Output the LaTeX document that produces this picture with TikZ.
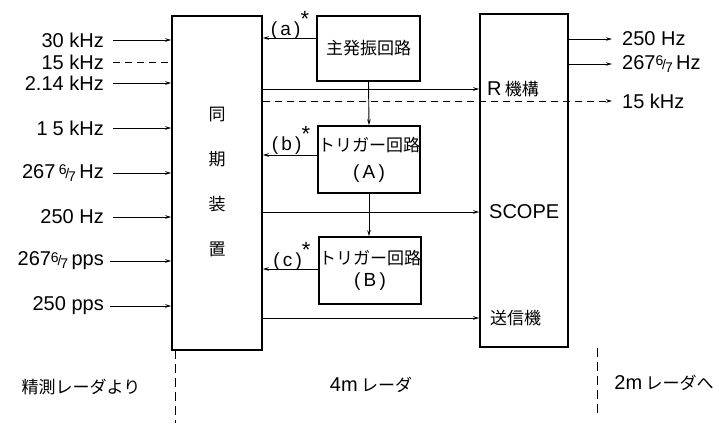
\documentclass[tikz,border=0pt]{standalone}
\usepackage{fontspec}
\setmainfont{Liberation Sans}
\newfontfamily\jp{Noto Sans CJK JP}
\usetikzlibrary{arrows.meta}
\newcommand{\sixsev}{{\fontsize{14}{14}\selectfont\raisebox{0.5ex}{6}\kern-0.08em/\kern-0.08em\raisebox{-0.35ex}{7}}}
\newcommand{\mystar}{\raisebox{0.9ex}{\fontsize{22}{22}\selectfont *}}
\begin{document}
\begin{tikzpicture}[x=1pt,y=-1pt,
  box/.style={draw, line width=1.6pt, inner sep=0pt},
  lab/.style={font=\fontsize{20}{20}\selectfont, inner sep=0pt},
  jlab/.style={font=\jp\fontsize{17}{17}\selectfont, inner sep=0pt},
  ln/.style={line width=0.9pt},
  arr/.style={line width=0.9pt, -{Stealth[length=6pt,width=3.5pt]}},
  dsh/.style={line width=0.9pt, dash pattern=on 7pt off 5pt},
  vdsh/.style={line width=0.9pt, dash pattern=on 9pt off 5pt}]
\useasboundingbox (0,0) rectangle (719,423);

% boxes
\node[box, minimum width=90pt, minimum height=334pt] (sync) at (217,183) {};
\node[jlab, align=center, font=\jp\fontsize{17}{45}\selectfont] (synct) at (217,182) {同\\期\\装\\置};
\node[box, minimum width=88pt, minimum height=333pt] (scope) at (524,180.5) {};
\node[box, jlab, minimum width=103pt, minimum height=65pt] (osc) at (368.5,48.5) {主発振回路};
\node[box, jlab, align=center, font=\jp\fontsize{17}{27}\selectfont, minimum width=102pt, minimum height=67pt] (trigA) at (369,159.5) {トリガー回路\\{\fontsize{19}{19}\selectfont\rmfamily(\,A\,)}};
\node[box, jlab, align=center, font=\jp\fontsize{17}{22}\selectfont, minimum width=102pt, minimum height=67pt] (trigB) at (370,270.5) {トリガー回路\\{\fontsize{19}{19}\selectfont\rmfamily(\,B\,)}};

% labels inside scope box
\node[lab, anchor=west] (rk) at (487,89) {R\,{\jp\fontsize{17}{17}\selectfont 機構}};
\node[lab, anchor=west] (sc) at (489,212) {SCOPE};
\node[jlab, anchor=west] (tx) at (490,318) {送信機};

% input labels
\node[lab, anchor=east] (i1) at (104,40) {30 kHz};
\node[lab, anchor=east] (i2) at (104,62) {15 kHz};
\node[lab, anchor=east] (i3) at (104,83) {2.14 kHz};
\node[lab, anchor=east] (i4) at (104,128) {1\hspace{0.25em}5 kHz};
\node[lab, anchor=east] (i5) at (104,173) {267\,\sixsev\,Hz};
\node[lab, anchor=east] (i6) at (104,217) {250 Hz};
\node[lab, anchor=east] (i7) at (104,261) {267\sixsev\,pps};
\node[lab, anchor=east] (i8) at (104,306) {250 pps};

\draw[arr] ([xshift=9pt]i1.east) -- (i1.east -| sync.west);
\draw[dsh] ([xshift=9pt]i2.east) -- (i2.east -| sync.west);
\draw[arr] ([xshift=9pt]i3.east) -- (i3.east -| sync.west);
\draw[arr] ([xshift=9pt]i4.east) -- (i4.east -| sync.west);
\draw[arr] ([xshift=9pt]i5.east) -- (i5.east -| sync.west);
\draw[arr] ([xshift=9pt]i6.east) -- (i6.east -| sync.west);
\draw[arr] ([xshift=6pt]i7.east) -- (i7.east -| sync.west);
\draw[arr] ([xshift=6pt]i8.east) -- (i8.east -| sync.west);

% output labels
\node[lab, anchor=west] (o1) at (622,39) {250 Hz};
\node[lab, anchor=west] (o2) at (622,64) {267\sixsev\,Hz};
\node[lab, anchor=west] (o3) at (622,101) {15 kHz};

\draw[arr] (o1.west -| scope.east) -- ([xshift=-10pt]o1.west);
\draw[arr] (o2.west -| scope.east) -- ([xshift=-10pt]o2.west);
\draw[dsh, -{Stealth[length=6pt,width=3.5pt]}] (o3.west -| sync.east) -- ([xshift=-10pt]o3.west);

% sync -> scope
\draw[arr] (rk.west -| sync.east) -- (rk.west -| scope.west);
\draw[arr] (sc.west -| sync.east) -- (sc.west -| scope.west);
\draw[arr] (tx.west -| sync.east) -- (tx.west -| scope.west);

% chain
\draw[arr] (osc.south) -- (trigA.north);
\draw[arr] (trigA.south) -- (trigA.south |- trigB.north);

% feedback to sync
\draw[arr] ([yshift=10.5pt]osc.west) -- ([yshift=10.5pt]osc.west -| sync.east);
\draw[arr] ([yshift=4.5pt]trigA.west) -- ([yshift=4.5pt]trigA.west -| sync.east);
\draw[arr] ([yshift=1.5pt]trigB.west) -- ([yshift=1.5pt]trigB.west -| sync.east);

\node[lab, font=\fontsize{19}{19}\selectfont] (la) at (290,25) {(\,a\,)\mystar};
\node[lab, font=\fontsize{19}{19}\selectfont] (lb) at (291,140) {(\,b\,)\mystar};
\node[lab, font=\fontsize{19}{19}\selectfont] (lc) at (292,256) {(\,c\,)\mystar};

% bottom
\coordinate (d1a) at (175,350);
\coordinate (d1b) at (175,423);
\coordinate (d2a) at (597,348);
\coordinate (d2b) at (597,417);
\draw[vdsh] (d1a) -- (d1b);
\draw[vdsh] (d2a) -- (d2b);
\node[jlab] (b1) at (81,387) {精測レーダより};
\node[lab] (b2) at (371,385) {4m\,{\jp\fontsize{17}{17}\selectfont レーダ}};
\node[lab] (b3) at (664,383) {2m\,{\jp\fontsize{17}{17}\selectfont レーダへ}};
\end{tikzpicture}
\end{document}
